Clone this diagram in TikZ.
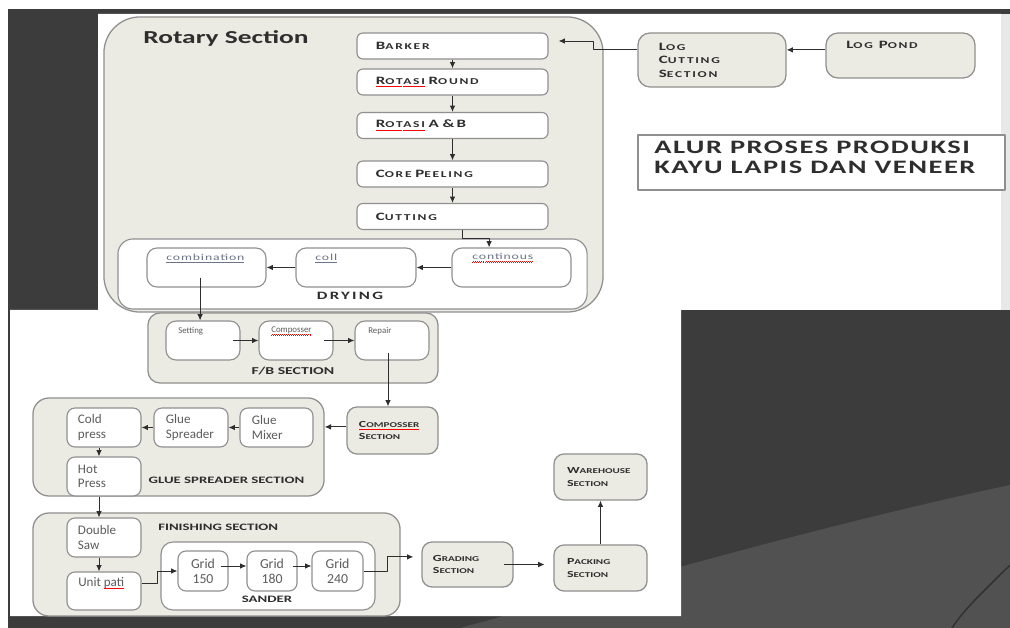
\documentclass[tikz,border=0pt]{standalone}
\usepackage{fontspec}
\setmainfont{Carlito}
\newfontfamily\widefont{Carlito}[FakeStretch=1.5]
\usepackage{xcolor}
\usepackage{tikz}
\usetikzlibrary{positioning}
\usetikzlibrary{arrows.meta}
\definecolor{gelap}{rgb}{0.235,0.235,0.235}
\definecolor{redup}{rgb}{0.318,0.318,0.318}
\definecolor{krem}{rgb}{0.925,0.922,0.89}
\definecolor{garis}{rgb}{0.56,0.56,0.56}
\definecolor{tinta}{rgb}{0.18,0.18,0.18}
\definecolor{abu}{rgb}{0.36,0.36,0.36}
\definecolor{biru}{rgb}{0.42,0.46,0.53}
\makeatletter
\newsavebox\typobox
\newcommand\lc[1]{{\fontsize{\fpeval{0.8*\f@size}}{\f@baselineskip}\selectfont#1}}
\newcommand\typo[1]{\sbox\typobox{#1}\rlap{#1}\textcolor{red}{\hbox to\wd\typobox{\xleaders\hbox{\rule[-2.1pt]{0.7pt}{0.45pt}\rule[-1.6pt]{0.7pt}{0.45pt}}\hfill}}}
\newcommand\uln[1]{\sbox\typobox{#1}\rlap{#1}\rule[-1.6pt]{\wd\typobox}{0.4pt}}
\makeatother

\begin{document}
\begin{tikzpicture}[x=0.025cm, y=-0.025cm, line join=round]
\tikzset{
    secnode/.style = {draw=garis, line width=0.9pt, fill=krem, rounded corners=0.3cm},
    boxnode/.style = {draw=garis, line width=0.8pt, fill=white, rounded corners=0.15cm},
    capstext/.style = {text=tinta, align=left, inner sep=0pt, font=\widefont\bfseries\fontsize{8}{9.6}\selectfont\addfontfeature{LetterSpace=19}},
    lowcaps/.style = {text=tinta, align=left, inner sep=0pt, font=\widefont\bfseries\fontsize{6.6}{9.2}\selectfont},
    rotnode/.style = {boxnode, capstext, minimum width=4.775cm, minimum height=0.65cm, text width=3.825cm, inner xsep=0.475cm},
    headtext/.style = {text=tinta, inner sep=0pt, font=\widefont\bfseries\fontsize{7}{8}\selectfont},
    plaintext/.style = {text=abu, align=left, inner sep=0pt, font=\fontsize{9.3}{10}\selectfont},
    tinytext/.style = {text=abu, inner sep=0pt, font=\fontsize{6.3}{7}\selectfont},
    drytext/.style = {text=biru, inner sep=0pt, font=\widefont\fontsize{6.5}{7}\selectfont\addfontfeature{LetterSpace=10}},
    arr/.style = {draw=tinta, line width=0.7pt, -{Latex[length=4.5pt,width=4pt]}},
}
\useasboundingbox (0,0) rectangle (1010,628);
% slide background
\fill[white] (0,0) rectangle (1010,628);
\fill[gelap] (8,9) rectangle (1010,628);
\fill[redup] (1010,485) .. controls (800,530) and (600,590) .. (460,628) -- (1010,628) -- cycle;
\draw[gelap!80!black, line width=1pt] (1010,565) .. controls (985,590) and (965,608) .. (952,628);
\fill[white] (98,14) -- (1001,14) -- (1001,310) -- (681,310) -- (681,616) -- (10,616) -- (10,310) -- (98,310) -- cycle;
\fill[black!9] (1001,14) rectangle (1010,310);

% rotary section
\node[secnode, rounded corners=0.9cm, minimum width=12.475cm, minimum height=7.375cm] (rotary) at (353.5,164.5) {};
\node[headtext, anchor=west, font=\widefont\bfseries\fontsize{13}{14}\selectfont] (rotary-t) at (143,39) {Rotary Section};
\node[rotnode] (barker) at (452.5,46) {B\lc{ARKER}};
\node[rotnode] (round) at (452.5,82) {\typo{R\lc{OTASI}} R\lc{OUND}};
\node[rotnode] (ab) at (452.5,125.5) {\typo{R\lc{OTASI}} A \&B};
\node[rotnode] (core) at (452.5,174) {C\lc{ORE} P\lc{EELING}};
\node[rotnode] (cutting) at (452.5,216.5) {C\lc{UTTING}};

\node[boxnode, rounded corners=0.375cm, minimum width=11.725cm, minimum height=1.75cm] (drying) at (352.5,274) {};
\node[boxnode, rounded corners=0.25cm, minimum width=2.975cm, minimum height=0.975cm] (comb) at (206.5,267.5) {};
\node[boxnode, rounded corners=0.25cm, minimum width=3cm, minimum height=0.975cm] (coll) at (356,267.5) {};
\node[boxnode, rounded corners=0.25cm, minimum width=2.975cm, minimum height=0.975cm] (cont) at (511.5,267.5) {};
\node[drytext, anchor=west] (comb-t) at (166,258) {\uln{combination}};
\node[drytext, anchor=west] (coll-t) at (315,258) {\uln{coll}};
\node[drytext, anchor=west] (cont-t) at (472,258) {\typo{continous}};
\node[headtext, font=\widefont\bfseries\fontsize{8}{9}\selectfont\addfontfeature{LetterSpace=20}] (drying-t) at (350,296) {DRYING};

% log section
\node[secnode, capstext, minimum width=3.7cm, minimum height=1.35cm, text width=2.65cm, inner xsep=0.525cm] (logcut) at (712,60) {L\lc{OG}\\C\lc{UTTING}\\S\lc{ECTION}};
\node[secnode, minimum width=3.725cm, minimum height=1.125cm] (pond) at (900.5,55.5) {};
\node[capstext, anchor=west] (pond-t) at (846,45) {L\lc{OG} P\lc{OND}};

\node[draw=garis, line width=0.9pt, fill=white, minimum width=9.175cm, minimum height=1.375cm] (titlebox) at (821.5,162.5) {};
\node[headtext, anchor=west, align=left, font=\widefont\bfseries\fontsize{13.5}{14.2}\selectfont\addfontfeature{LetterSpace=8}] (title) at (654,157) {ALUR PROSES PRODUKSI\\KAYU LAPIS DAN VENEER};

% f/b section
\node[secnode, minimum width=7.25cm, minimum height=1.75cm] (fb) at (293,348) {};
\node[boxnode, rounded corners=0.25cm, minimum width=1.85cm, minimum height=0.975cm] (setting) at (203,340.5) {};
\node[boxnode, rounded corners=0.25cm, minimum width=1.85cm, minimum height=0.975cm] (comp) at (296,340.5) {};
\node[boxnode, rounded corners=0.25cm, minimum width=1.85cm, minimum height=0.975cm] (repair) at (392,340.5) {};
\node[tinytext, anchor=west] (setting-t) at (178,331) {Setting};
\node[tinytext, anchor=west] (comp-t) at (271,331) {\typo{Composser}};
\node[tinytext, anchor=west] (repair-t) at (368,331) {Repair};
\node[headtext, font=\widefont\bfseries\fontsize{7.5}{8}\selectfont] (fb-t) at (293,371) {F/B SECTION};

\node[secnode, lowcaps, rounded corners=0.25cm, minimum width=2.275cm, minimum height=1.175cm, text width=1.675cm, inner xsep=0.3cm] (csec) at (392.5,430.5) {\typo{C\lc{OMPOSSER}}\\S\lc{ECTION}};

% glue spreader section
\node[secnode, rounded corners=0.4cm, minimum width=7.275cm, minimum height=2.45cm] (glue) at (178.5,447) {};
\node[boxnode, plaintext, rounded corners=0.2cm, minimum width=1.85cm, minimum height=0.975cm, text width=1.3cm, inner xsep=0.275cm] (cold) at (104,427.5) {Cold\\press};
\node[boxnode, plaintext, rounded corners=0.2cm, minimum width=1.85cm, minimum height=0.975cm, text width=1.25cm, inner xsep=0.3cm] (gspread) at (191,427.5) {Glue\\Spreader};
\node[boxnode, plaintext, rounded corners=0.2cm, minimum width=1.825cm, minimum height=0.975cm, text width=1.225cm, inner xsep=0.3cm] (gmix) at (276.5,427.5) {Glue\\Mixer};
\node[boxnode, plaintext, rounded corners=0.2cm, minimum width=1.85cm, minimum height=0.975cm, text width=1.3cm, inner xsep=0.275cm] (hot) at (104,476.5) {Hot\\Press};
\node[headtext] (glue-t) at (226.5,480) {GLUE SPREADER SECTION};

% finishing section
\node[secnode, rounded corners=0.4cm, minimum width=9.175cm, minimum height=2.575cm] (finish) at (216.5,564.5) {};
\node[headtext, anchor=west] (finish-t) at (158,527) {FINISHING SECTION};
\node[boxnode, plaintext, rounded corners=0.2cm, minimum width=1.85cm, minimum height=0.975cm, text width=1.3cm, inner xsep=0.275cm] (dsaw) at (104,537.5) {Double\\Saw};
\node[boxnode, rounded corners=0.2cm, minimum width=1.85cm, minimum height=0.95cm] (upati) at (104,591) {};
\node[plaintext, anchor=west] (upati-t) at (78,583) {Unit \typo{pati}};
\node[boxnode, rounded corners=0.3cm, minimum width=5.35cm, minimum height=1.7cm] (sander) at (268,576) {};
\node[boxnode, plaintext, align=center, rounded corners=0.2cm, minimum width=1.25cm, minimum height=1cm, font=\fontsize{9.8}{10.7}\selectfont] (g150) at (203,571) {Grid\\150};
\node[boxnode, plaintext, align=center, rounded corners=0.2cm, minimum width=1.25cm, minimum height=1cm, font=\fontsize{9.8}{10.7}\selectfont] (g180) at (272,571) {Grid\\180};
\node[boxnode, plaintext, align=center, rounded corners=0.2cm, minimum width=1.275cm, minimum height=1cm, font=\fontsize{9.8}{10.7}\selectfont] (g240) at (337.5,571) {Grid\\240};
\node[headtext] (sander-t) at (267,599) {SANDER};

% grading, packing, warehouse
\node[secnode, lowcaps, rounded corners=0.25cm, minimum width=2.275cm, minimum height=1.125cm, text width=1.725cm, inner xsep=0.275cm] (grading) at (467.5,564.5) {G\lc{RADING}\\S\lc{ECTION}};
\node[secnode, lowcaps, rounded corners=0.25cm, minimum width=2.325cm, minimum height=1.15cm, text width=1.675cm, inner xsep=0.325cm] (packing) at (600.5,568) {P\lc{ACKING}\\S\lc{ECTION}};
\node[secnode, lowcaps, rounded corners=0.25cm, minimum width=2.325cm, minimum height=1.15cm, text width=1.675cm, inner xsep=0.325cm] (warehouse) at (600.5,477) {W\lc{AREHOUSE}\\S\lc{ECTION}};

% flow
\draw[arr] ([yshift=0.14cm]pond.west) -- ([yshift=0.14cm]pond.west -| logcut.east);
\draw[arr, shorten >=0.25cm] ([yshift=0.25cm]logcut.west) -- ++(-44,0) |- ([yshift=0.125cm]barker.east);
\draw[arr] (barker) -- (round);
\draw[arr] (round) -- (ab);
\draw[arr] (ab) -- (core);
\draw[arr] (core) -- (cutting);
\draw[arr] ([xshift=0.26cm]cutting.south) -- ++(0,8) -| ([xshift=-0.56cm]cont.north);
\draw[arr] (cont) -- (coll);
\draw[arr] (coll) -- (comb);
\draw[arr] ([xshift=-0.16cm,yshift=0.25cm]comb.south) -- ([xshift=-0.16cm]comb.south |- setting.north);
\draw[arr] ([xshift=-0.18cm]setting.east) -- (comp.west);
\draw[arr] ([xshift=-0.25cm]comp.east) -- (repair.west);
\draw[arr] ([xshift=-0.1cm,yshift=0.18cm]repair.south) -- ([xshift=-0.1cm]repair.south |- csec.north);
\draw[arr] ([yshift=0.09cm]csec.west) -- ([yshift=0.09cm]csec.west -| glue.east);
\draw[arr] (gmix) -- (gspread);
\draw[arr] (gspread) -- (cold);
\draw[arr] ([xshift=-0.125cm]cold.south) -- ([xshift=-0.125cm]hot.north);
\draw[arr] ([xshift=-0.125cm]hot.south) -- ([xshift=-0.125cm]dsaw.north);
\draw[arr] ([xshift=-0.125cm]dsaw.south) -- ([xshift=-0.125cm]upati.north);
\draw[arr] ([yshift=0.2cm]upati.east) -- ++(16,0) |- (g150.west);
\draw[arr] ([xshift=-0.2cm,yshift=0.125cm]g150.east) -- ([yshift=0.125cm]g180.west);
\draw[arr] ([xshift=-0.125cm,yshift=0.125cm]g180.east) -- ([yshift=0.125cm]g240.west);
\draw[arr, shorten >=0.2cm] (g240.east) -- ++(24,0) |- ([yshift=0.19cm]grading.west);
\draw[arr, shorten >=0.22cm] ([xshift=-0.25cm]grading.east) -- (grading.east -| packing.west);
\draw[arr] (packing) -- (warehouse);

\end{tikzpicture}
\end{document}
